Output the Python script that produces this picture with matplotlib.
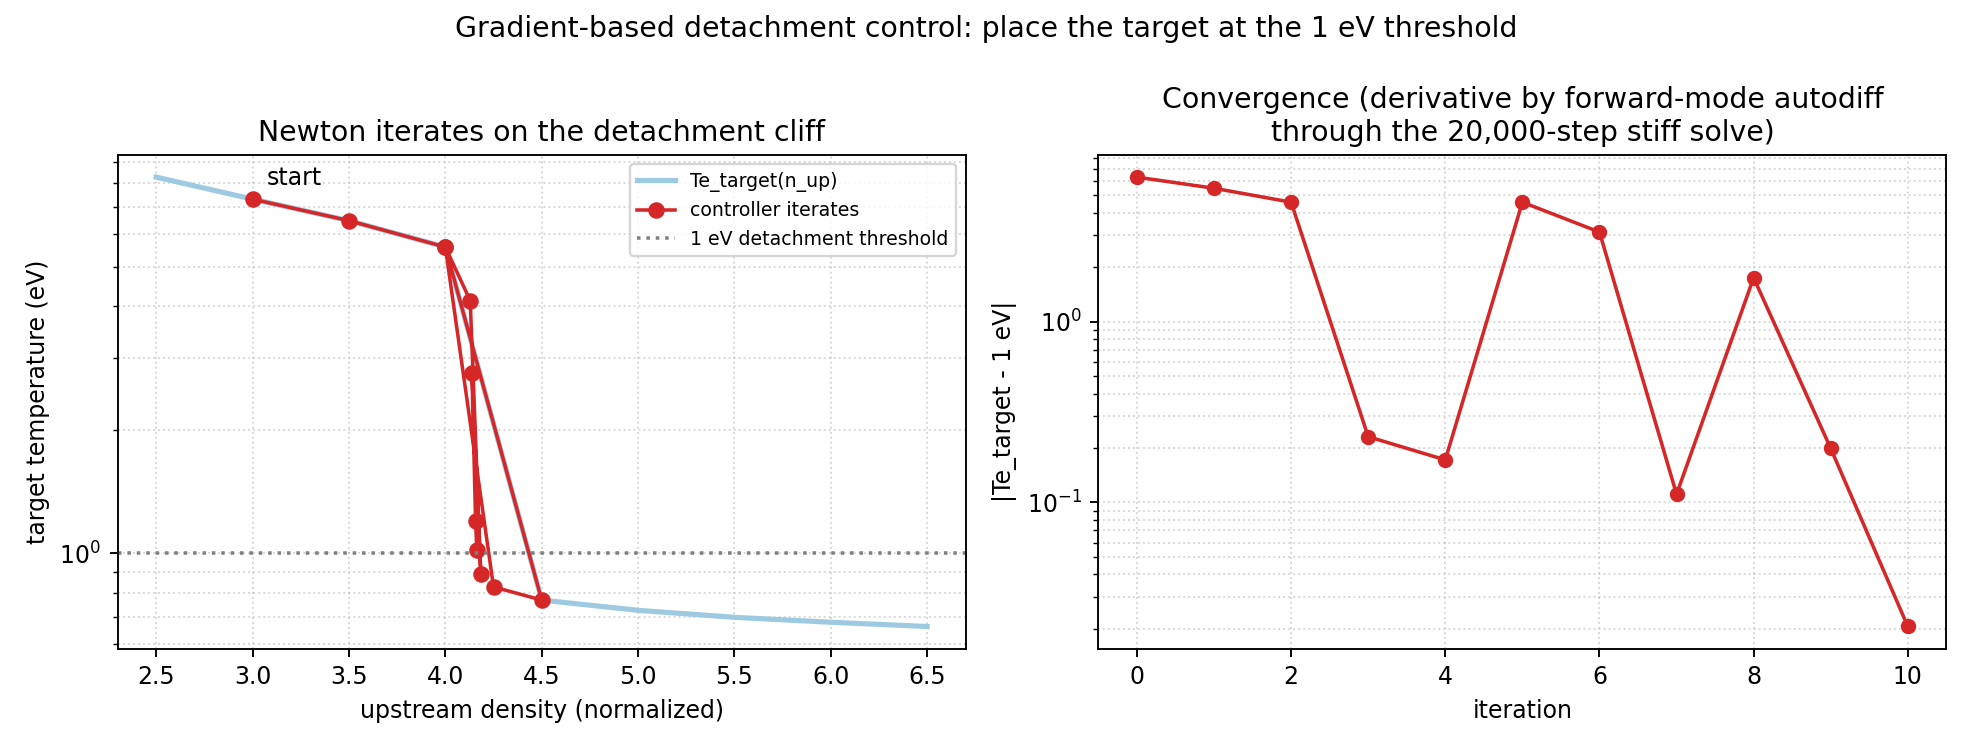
import matplotlib
matplotlib.use("Agg")
import matplotlib.pyplot as plt
import numpy as np

# Te_target(n_up) curve sampled on the density grid
n_grid = [2.5, 3.0, 3.5, 4.0, 4.5, 5.0, 5.5, 6.0, 6.5]
te_grid = [8.26, 7.30, 6.47, 5.58, 0.769, 0.726, 0.698, 0.679, 0.663]

# Newton controller iterates (upstream density, target temperature)
n_iter = [3.0, 3.5, 4.0, 4.5, 4.25, 4.0, 4.129, 4.184, 4.138, 4.157, 4.163]
te_iter = [7.30, 6.47, 5.58, 0.769, 0.828, 5.58, 4.13, 0.889, 2.75, 1.199, 1.0206]

threshold = 1.0
iterations = np.arange(len(te_iter))
err = np.abs(np.array(te_iter) - threshold)

fig, (ax1, ax2) = plt.subplots(1, 2, figsize=(1972 / 170, 748 / 170), dpi=170)
fig.subplots_adjust(left=0.0597, right=0.987, top=0.7932, bottom=0.1324, wspace=0.1565)

# left: iterates on the cliff
ax1.plot(n_grid, te_grid, color="#9ecae1", lw=2.2, label="Te_target(n_up)")
ax1.plot(n_iter, te_iter, "-o", color="tab:red", lw=1.5, ms=6, label="controller iterates")
ax1.axhline(threshold, color="gray", ls=":", lw=1.5, label="1 eV detachment threshold")
ax1.annotate("start", (n_iter[0], te_iter[0]), xytext=(6, 6),
             textcoords="offset points", fontsize=10)
ax1.set_yscale("log")
ax1.set_xlabel("upstream density (normalized)")
ax1.set_ylabel("target temperature (eV)")
ax1.set_title("Newton iterates on the detachment cliff")
ax1.grid(True, which="both", ls=":", alpha=0.5)
ax1.legend(loc="upper right", fontsize=8)

# right: convergence
ax2.plot(iterations, err, "-o", color="tab:red", lw=1.5, ms=5.5)
ax2.set_yscale("log")
ax2.set_xlabel("iteration")
ax2.set_ylabel("|Te_target - 1 eV|")
ax2.set_title("Convergence (derivative by forward-mode autodiff\nthrough the 20,000-step stiff solve)")
ax2.grid(True, which="both", ls=":", alpha=0.5)

fig.suptitle("Gradient-based detachment control: place the target at the 1 eV threshold")

fig.savefig("out.png", dpi=170)
